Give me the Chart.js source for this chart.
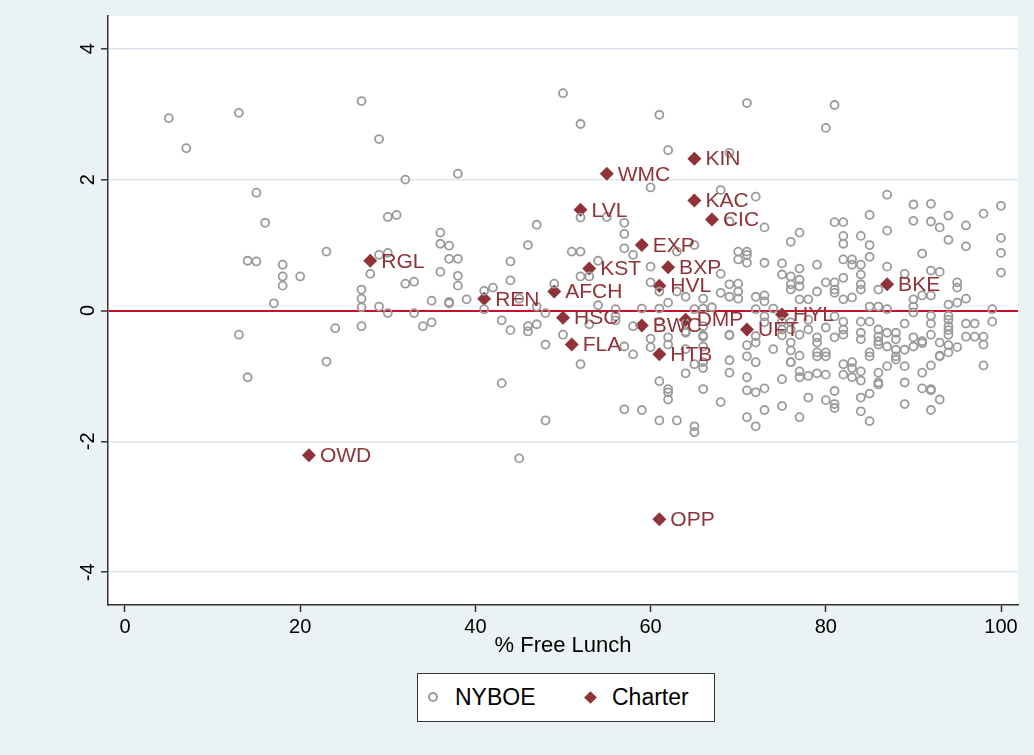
<!DOCTYPE html>
<html>
<head>
<meta charset="utf-8">
<script src="https://cdn.jsdelivr.net/npm/chart.js@4"></script>
<style>
  body { margin: 0; background: #eaf2f3; }
  #wrap { position: relative; width: 1034px; height: 755px; }
  #legend {
    position: absolute; left: 417px; top: 673px; width: 298px; height: 49px;
    box-sizing: border-box; border: 1px solid #333; background: #fff;
    font-family: "Liberation Sans", Arial, sans-serif; font-size: 23px; color: #000;
  }
  #legend span { position: absolute; }
  .circ { width: 6px; height: 6px; border: 2px solid #999; border-radius: 50%; top: 18px; left: 10px; }
  .diam { width: 9px; height: 9px; background: #903338; transform: rotate(45deg); top: 19px; left: 168px; }
  .lbl { top: 10px; }
</style>
</head>
<body>
<div id="wrap">
  <canvas id="chart" width="1034" height="755"></canvas>
  <div id="legend">
    <span class="circ"></span><span class="lbl" style="left:37px">NYBOE</span>
    <span class="diam"></span><span class="lbl" style="left:194px">Charter</span>
  </div>
</div>
<script>
// tick labels
const xTicks = [0, 20, 40, 60, 80, 100];
const yTicks = [-4, -2, 0, 2, 4];

// NYBOE schools: % free lunch and score
const nyboeX = [
  5, 7, 13, 15, 16, 27, 29, 32, 38, 30, 31, 50, 52, 61, 71, 62, 69, 60, 68, 72, 52, 55, 81, 80, 87, 90, 92, 94, 98, 100, 85, 81, 82,
  14, 15, 18, 18, 18, 20, 23, 17, 13, 24,
  47, 36, 36, 37, 46, 29, 30, 37, 38, 44, 28, 36, 38, 38, 32, 33, 44, 27, 27, 27, 29, 30, 33, 35, 37, 37, 39, 41, 42, 41, 45, 47, 49, 48, 27, 34, 35, 43, 44, 46, 46, 47,
  57, 57, 57, 58, 51, 52, 54, 63, 65, 69, 73, 70, 71, 71, 70, 71, 73, 75, 76, 60, 52, 53, 68, 60, 61, 63, 64, 66, 68, 69, 69, 70, 70, 70, 72, 73, 73, 75, 76, 54, 59, 61, 62, 56, 65, 66, 67, 72, 74, 56, 56, 53, 58, 61, 64, 64, 66, 66, 69, 73, 73, 75, 72,
  82, 82, 84, 85, 87, 90, 92, 93, 96, 100, 100, 100, 94, 96, 91, 85, 82, 83, 83, 84, 79, 77, 77, 87, 92, 93, 89, 84, 82, 76, 76, 77, 77, 80, 81, 81, 81, 79, 84, 84, 86, 91, 92, 90, 90, 94, 95, 96, 95, 95, 77, 78, 82, 83, 85, 86, 87, 99, 99, 76, 75, 76, 78, 78, 80, 81, 82, 82, 84, 85, 86, 89, 90, 92, 92, 94, 94, 94, 94, 96, 97,
  75, 76, 76, 77, 77, 76, 79, 79, 79, 79, 80, 80, 81, 82, 84, 84, 85, 85, 86, 86, 86, 87, 87, 88, 88, 88, 88, 88, 89, 90, 90, 91, 91, 92, 93, 93, 94, 94, 94, 95, 96, 97, 98, 98, 98,
  75, 77, 77, 78, 79, 80, 82, 82, 83, 83, 83, 84, 84, 86, 86, 86, 87, 89, 89, 91, 91, 92, 92, 93, 75, 77, 78, 80, 81, 81, 81, 84, 85, 84, 85, 89, 92, 93, 92,
  50, 57, 58, 60, 60, 62, 62, 64, 64, 66, 66, 66, 66, 65, 69, 69, 69, 71, 71, 71, 71, 72, 72, 72, 73, 74, 76, 52, 64, 61, 62, 62, 62, 66, 68, 57, 59, 61, 63, 65, 65, 71, 72, 73,
  48, 43, 48, 45, 23, 14
];
const nyboeY = [
  2.94, 2.48, 3.02, 1.80, 1.34, 3.20, 2.62, 2.00, 2.09, 1.43, 1.46, 3.32, 2.85, 2.99, 3.17, 2.45, 2.41, 1.88, 1.84, 1.74, 1.42, 1.43, 3.14, 2.79, 1.77, 1.62, 1.63, 1.45, 1.48, 1.60, 1.46, 1.35, 1.35,
  0.76, 0.75, 0.70, 0.52, 0.38, 0.52, 0.90, 0.11, -0.37, -0.27,
  1.31, 1.19, 1.02, 0.99, 1.00, 0.85, 0.88, 0.79, 0.79, 0.75, 0.56, 0.59, 0.53, 0.38, 0.41, 0.44, 0.46, 0.32, 0.18, 0.05, 0.06, -0.04, -0.04, 0.15, 0.13, 0.11, 0.17, 0.30, 0.35, 0.02, 0.18, 0.06, 0.41, -0.04, -0.24, -0.24, -0.18, -0.15, -0.30, -0.24, -0.32, -0.21,
  1.34, 1.17, 0.95, 0.85, 0.90, 0.90, 0.76, 0.90, 1.00, 1.36, 1.27, 0.90, 0.90, 0.85, 0.78, 0.73, 0.73, 0.72, 1.05, 0.67, 0.52, 0.52, 0.56, 0.43, 0.29, 0.29, 0.21, 0.18, 0.27, 0.21, 0.40, 0.41, 0.29, 0.18, 0.21, 0.23, 0.14, 0.55, 0.32, 0.08, 0.03, 0.03, 0.12, 0.02, 0.02, 0.03, 0.05, 0.02, 0.03, -0.09, -0.15, -0.21, -0.24, -0.17, -0.20, -0.32, -0.24, -0.38, -0.38, -0.09, -0.18, -0.17, -0.39,
  1.14, 1.02, 1.14, 1.00, 1.22, 1.37, 1.36, 1.27, 1.30, 1.11, 0.88, 0.58, 1.08, 0.98, 0.87, 0.82, 0.78, 0.78, 0.70, 0.70, 0.70, 0.64, 1.19, 0.67, 0.61, 0.59, 0.56, 0.55, 0.50, 0.52, 0.40, 0.47, 0.37, 0.43, 0.43, 0.32, 0.27, 0.29, 0.40, 0.32, 0.32, 0.23, 0.23, 0.17, 0.06, 0.09, 0.12, 0.18, 0.43, 0.35, 0.17, 0.17, 0.17, 0.20, 0.06, 0.06, 0.02, 0.02, -0.17, -0.18, -0.29, -0.29, -0.14, -0.29, -0.26, -0.09, -0.17, -0.29, -0.17, -0.17, -0.29, -0.20, -0.03, -0.08, -0.20, -0.08, -0.14, -0.24, -0.30, -0.20, -0.20,
  -0.38, -0.49, -0.61, -0.37, -0.69, -0.79, -0.41, -0.49, -0.64, -0.70, -0.64, -0.70, -0.41, -0.37, -0.34, -0.44, -0.64, -0.70, -0.40, -0.47, -0.52, -0.34, -0.55, -0.34, -0.44, -0.60, -0.70, -0.75, -0.60, -0.41, -0.55, -0.47, -0.50, -0.37, -0.49, -0.69, -0.37, -0.53, -0.64, -0.56, -0.40, -0.40, -0.40, -0.52, -0.84,
  -1.05, -0.93, -1.02, -1.00, -0.96, -0.98, -0.82, -0.98, -0.79, -0.88, -1.02, -0.93, -1.07, -0.95, -1.10, -1.13, -0.85, -0.85, -1.10, -0.95, -1.19, -0.84, -1.22, -0.70, -1.46, -1.63, -1.33, -1.37, -1.23, -1.43, -1.49, -1.33, -1.27, -1.54, -1.69, -1.43, -1.20, -1.36, -1.52,
  -0.37, -0.55, -0.67, -0.43, -0.56, -0.41, -0.52, -0.34, -0.59, -0.40, -0.55, -0.79, -0.88, -0.82, -0.37, -0.76, -0.95, -0.53, -0.70, -1.02, -1.22, -0.49, -0.79, -1.25, -1.19, -0.59, -0.79, -0.82, -0.96, -1.08, -1.20, -1.25, -1.36, -1.20, -1.40, -1.51, -1.52, -1.68, -1.68, -1.77, -1.86, -1.63, -1.77, -1.52,
  -0.52, -1.11, -1.68, -2.26, -0.78, -1.02
];

// Charter schools
const charterNames = ["KIN", "WMC", "KAC", "LVL", "CIC", "EXP", "RGL", "KST", "BXP", "HVL", "BKE", "AFCH", "REN", "HSC", "BWC", "DMP", "HYL", "UFT", "FLA", "HTB", "OWD", "OPP"];
const charterX = [65, 55, 65, 52, 67, 59, 28, 53, 62, 61, 87, 49, 41, 50, 59, 64, 75, 71, 51, 61, 21, 61];
const charterY = [2.32, 2.09, 1.68, 1.54, 1.39, 1.00, 0.76, 0.64, 0.66, 0.38, 0.40, 0.29, 0.18, -0.11, -0.23, -0.14, -0.06, -0.29, -0.52, -0.67, -2.21, -3.19];

const FONT = "'Liberation Sans', Arial, sans-serif";
const MAROON = "#903338";

// white plot region
const plotBg = {
  id: "plotBg",
  beforeDraw(chart) {
    const a = chart.chartArea;
    chart.ctx.save();
    chart.ctx.fillStyle = "#fff";
    chart.ctx.fillRect(a.left, a.top, a.right - a.left, a.bottom - a.top);
    chart.ctx.restore();
  }
};

// labels next to the charter diamonds
const charterLabels = {
  id: "charterLabels",
  afterDatasetsDraw(chart) {
    const ctx = chart.ctx;
    const meta = chart.getDatasetMeta(1);
    ctx.save();
    ctx.font = "21px " + FONT;
    ctx.fillStyle = MAROON;
    ctx.textAlign = "left";
    ctx.textBaseline = "middle";
    meta.data.forEach((pt, i) => {
      ctx.fillText(charterNames[i], pt.x + 11, pt.y + 1);
    });
    ctx.restore();
  }
};

new Chart(document.getElementById("chart"), {
  type: "scatter",
  data: {
    datasets: [
      {
        label: "NYBOE",
        data: nyboeX.map((x, i) => ({ x: x, y: nyboeY[i] })),
        pointStyle: "circle",
        pointRadius: 4,
        borderWidth: 1.8,
        borderColor: "#9a9a9a",
        backgroundColor: "rgba(0,0,0,0)"
      },
      {
        label: "Charter",
        data: charterX.map((x, i) => ({ x: x, y: charterY[i] })),
        pointStyle: "rectRot",
        pointRadius: 7,
        borderWidth: 0,
        backgroundColor: MAROON
      }
    ]
  },
  options: {
    responsive: false,
    animation: false,
    layout: { padding: { top: 15, right: 16, bottom: 93, left: 0 } },
    plugins: { legend: { display: false }, tooltip: { enabled: false } },
    scales: {
      x: {
        type: "linear",
        min: -1.94,
        max: 101.94,
        afterBuildTicks: s => { s.ticks = xTicks.map(v => ({ value: v })); },
        afterFit: s => { s.height = 57; },
        grid: { drawOnChartArea: false, drawTicks: true, tickLength: 7, tickColor: "#333", tickWidth: 1.5 },
        border: { display: true, color: "#333", width: 1.5 },
        ticks: { font: { family: FONT, size: 20 }, color: "#000", padding: 3, maxRotation: 0, autoSkip: false },
        title: { display: true, text: "% Free Lunch", font: { family: FONT, size: 22 }, color: "#000", padding: { top: 2, bottom: 3 } }
      },
      y: {
        min: -4.5,
        max: 4.5,
        afterBuildTicks: s => { s.ticks = yTicks.map(v => ({ value: v })); },
        afterFit: s => { s.width = 108; },
        grid: {
          color: c => (c.tick && c.tick.value === 0 ? "#c8102e" : "#dde5ef"),
          lineWidth: c => (c.tick && c.tick.value === 0 ? 2 : 1.6),
          tickColor: "#333",
          tickWidth: 1.5,
          tickLength: 7
        },
        border: { display: true, color: "#333", width: 1.5 },
        ticks: { font: { family: FONT, size: 20 }, color: "#000", padding: 4, minRotation: 90, maxRotation: 90, crossAlign: "center", autoSkip: false }
      }
    }
  },
  plugins: [plotBg, charterLabels]
});
</script>
</body>
</html>
